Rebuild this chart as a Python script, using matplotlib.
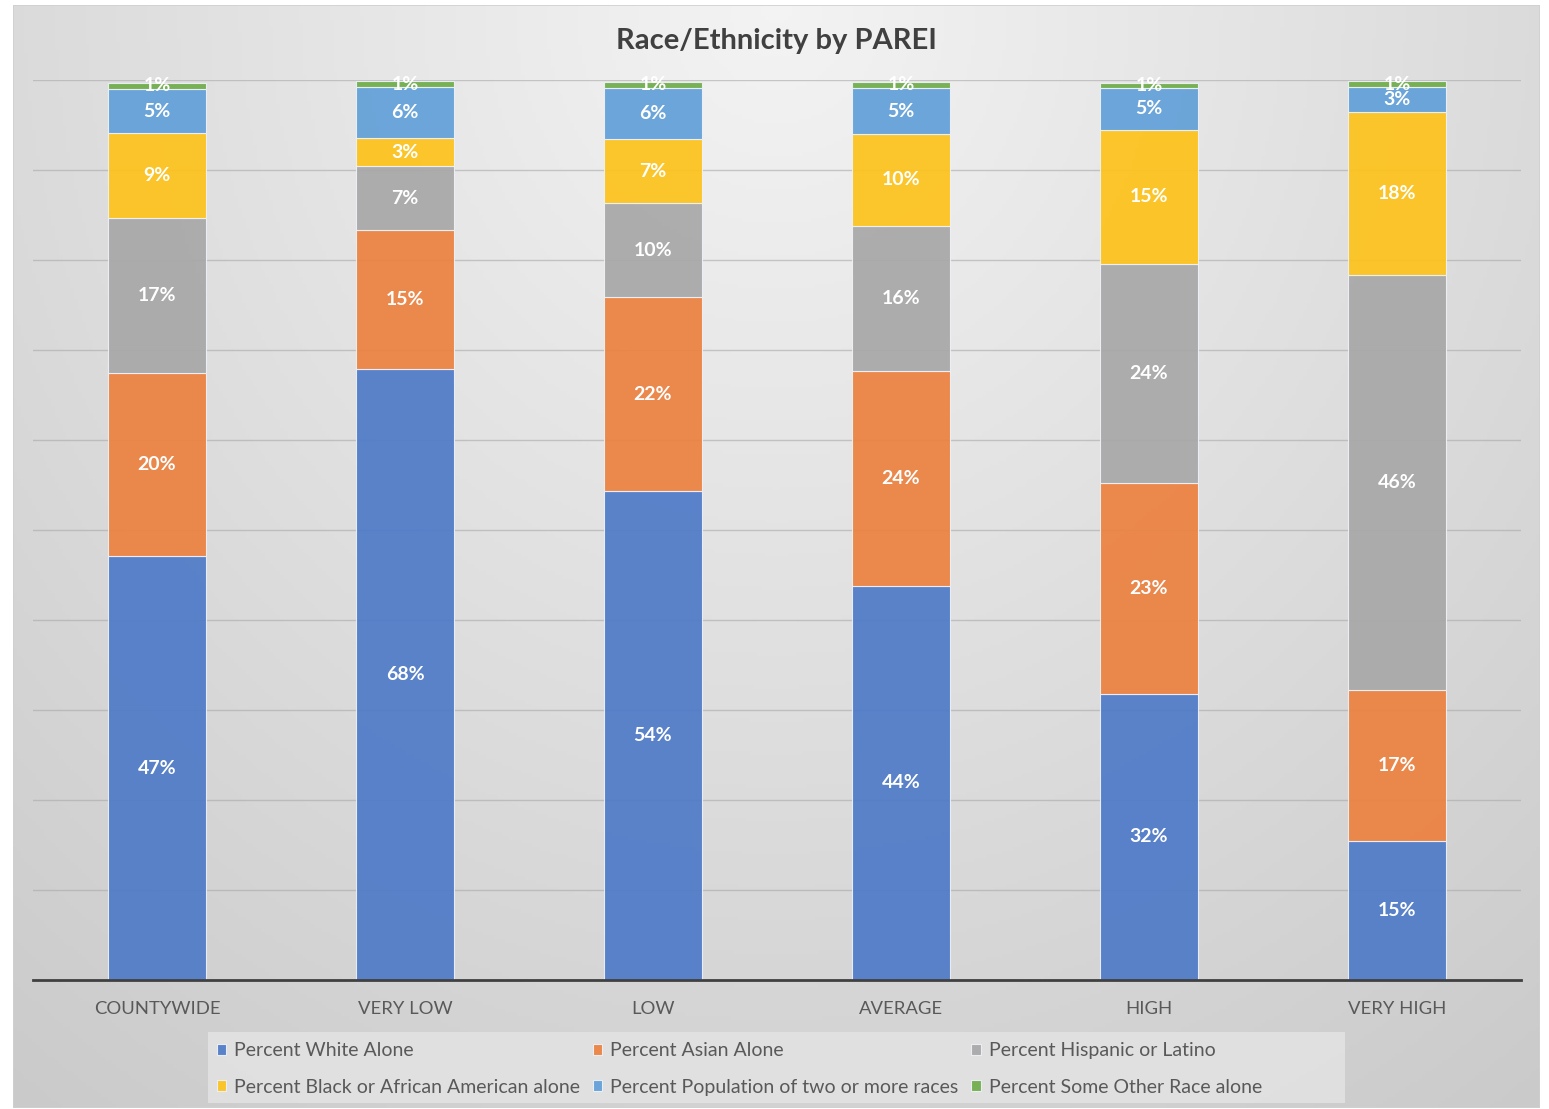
import numpy as np
import matplotlib.pyplot as plt
from matplotlib.patches import Rectangle

plt.rcParams['font.family'] = ['Lato', 'DejaVu Sans']

categories = ['COUNTYWIDE', 'VERY LOW', 'LOW', 'AVERAGE', 'HIGH', 'VERY HIGH']
series_names = ['Percent White Alone', 'Percent Asian Alone', 'Percent Hispanic or Latino',
                'Percent Black or African American alone', 'Percent Population of two or more races',
                'Percent Some Other Race alone']
white = [47.1, 67.9, 54.3, 43.8, 31.8, 15.4]
asian = [20.3, 15.4, 21.6, 23.9, 23.4, 16.8]
hispanic = [17.3, 7.1, 10.4, 16.1, 24.4, 46.1]
black = [9.4, 3.2, 7.1, 10.2, 14.9, 18.1]
two_more = [4.9, 5.6, 5.7, 5.1, 4.6, 2.8]
other = [0.7, 0.7, 0.7, 0.7, 0.6, 0.7]
colors = ['#4f7bc8', '#ec8140', '#a8a8a8', '#fdc31c', '#62a0d8', '#6fad4a']

series = [white, asian, hispanic, black, two_more, other]

W, H = 1549, 1109
fig = plt.figure(figsize=(W / 100, H / 100), dpi=100)
fig.patch.set_facecolor('white')

# chart area background with radial gradient
x0, y0, x1, y1 = 13, 5, 1540, 1108
bg = fig.add_axes([x0 / W, 1 - y1 / H, (x1 - x0) / W, (y1 - y0) / H])
gx, gy = np.meshgrid(np.linspace(-1, 1, 400), np.linspace(0, 1, 300))
d = np.sqrt((gx * 0.75) ** 2 + (gy * 1.0) ** 2)
shade = np.clip(0.955 - 0.13 * d, 0.78, 1)
bg.imshow(np.dstack([shade] * 3), aspect='auto', extent=[0, 1, 1, 0])
bg.add_patch(Rectangle((0, 0), 1, 1, transform=bg.transAxes, fill=False,
                       edgecolor='#d0d0d0', lw=1.2))
bg.set_axis_off()

# legend box background
fig.add_artist(Rectangle((208 / W, 1 - 1103 / H), (1345 - 208) / W, 71 / H,
                         transform=fig.transFigure, facecolor='#e2e2e2',
                         edgecolor='none', alpha=0.9, zorder=1))

# plot area
ax = fig.add_axes([33 / W, 1 - 980 / H, (1521 - 33) / W, (980 - 80) / H])
ax.set_facecolor('none')
x = np.arange(len(categories))
bottom = np.zeros(len(categories))
handles = []
for vals, name, col in zip(series, series_names, colors):
    vals = np.array(vals)
    b = ax.bar(x, vals, 0.395, bottom=bottom, color=col, alpha=0.93,
               edgecolor='#eef2f8', linewidth=0.8, label=name, zorder=2)
    handles.append(b)
    for xi, v, bt in zip(x, vals, bottom):
        ax.text(xi, bt + v / 2, f'{round(v)}%', ha='center', va='center',
                color='white', fontsize=14, fontweight='bold', zorder=4)
    bottom += vals

ax.set_xlim(-0.5, 5.5)
ax.set_ylim(0, 100)
ax.set_yticks(np.arange(0, 101, 10))
ax.set_yticklabels([])
ax.tick_params(axis='y', length=0)
ax.grid(axis='y', color='#a9a9a9', linewidth=1.0, zorder=1, alpha=0.6)
ax.set_axisbelow(True)
ax.set_xticks(x)
ax.set_xticklabels(categories, fontsize=13.3, color='#595959')
ax.tick_params(axis='x', length=0, pad=15)
for s in ['top', 'right', 'left']:
    ax.spines[s].set_visible(False)
ax.spines['bottom'].set_color('#404040')
ax.spines['bottom'].set_linewidth(2)
ax.spines['bottom'].set_zorder(5)

fig.text(776 / W, 1 - 41 / H, 'Race/Ethnicity by PAREI', ha='center', va='center',
         fontsize=21, fontweight='bold', color='#404040')

order = [0, 3, 1, 4, 2, 5]
leg = fig.legend([handles[i] for i in order], [series_names[i] for i in order],
                 ncol=3, loc='center left', bbox_to_anchor=(199 / W, 1 - 1069 / H),
                 fontsize=14, frameon=False, handlelength=0.5, handleheight=0.5,
                 handletextpad=0.4, columnspacing=0.65, labelspacing=1.0,
                 borderpad=0.4, labelcolor='#595959')

fig.savefig('out.png', dpi=100)
